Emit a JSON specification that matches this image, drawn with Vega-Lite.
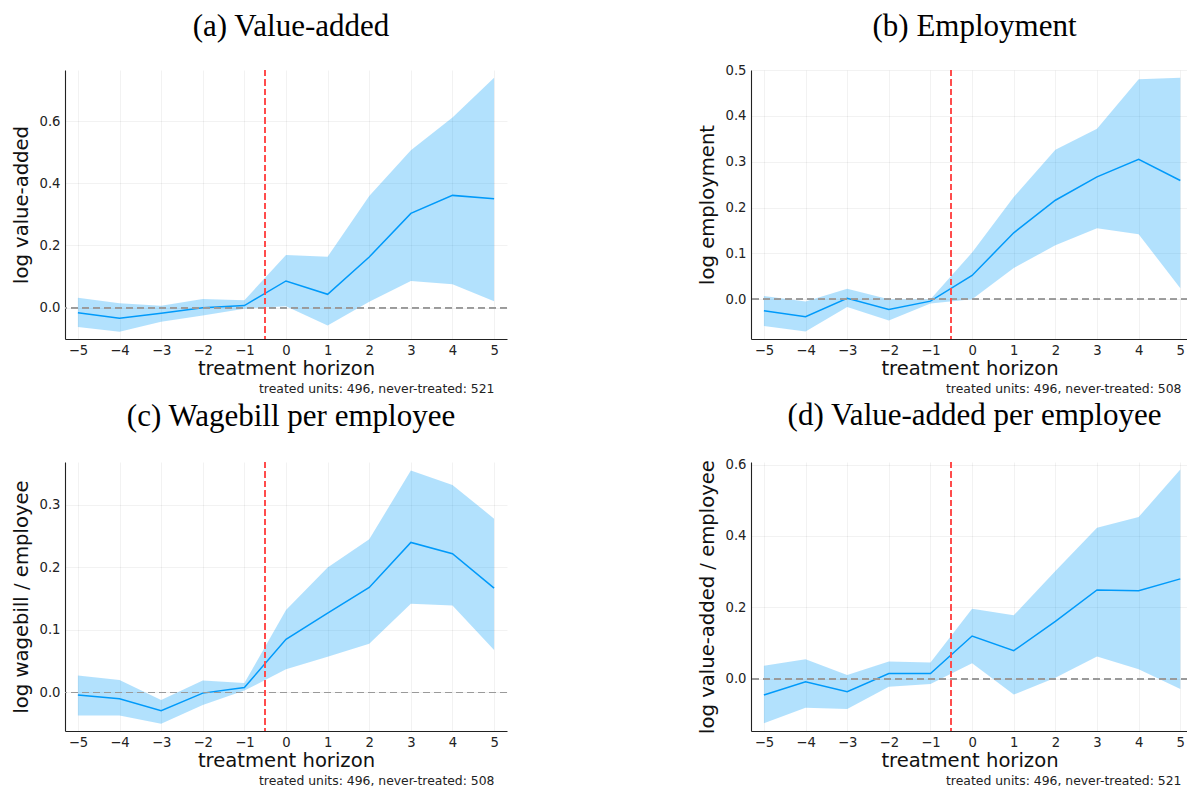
{
  "$schema": "https://vega.github.io/schema/vega-lite/v6.json",
  "background": "white",
  "padding": {"left": 10, "top": 10, "right": 0, "bottom": 0},
  "config": {
    "view": {"stroke": null},
    "title": {"font": "Liberation Serif", "fontSize": 31, "fontWeight": "normal", "color": "#000", "anchor": "middle", "frame": "group", "baseline": "alphabetic", "dx": 5},
    "axis": {
      "labelFont": "DejaVu Sans", "titleFont": "DejaVu Sans", "labelFontSize": 13.2, "titleFontSize": 19.6,
      "titleFontWeight": "normal", "labelColor": "#222", "titleColor": "#111",
      "domainColor": "#222", "domainWidth": 1.1, "gridColor": "#000", "gridOpacity": 0.08, "gridWidth": 0.7,
      "ticks": false
    },
    "axisX": {"labelPadding": 5, "titleY": 29, "titleBaseline": "middle", "values": [-5, -4, -3, -2, -1, 0, 1, 2, 3, 4, 5], "format": "d"},
    "axisY": {"labelPadding": 5, "titleX": -44, "titleBaseline": "middle", "format": ".1f"}
  },
  "datasets": {
    "es": [
      {"panel": "a", "h": -5, "est": -0.016, "lo": -0.062, "hi": 0.032},
      {"panel": "a", "h": -4, "est": -0.034, "lo": -0.077, "hi": 0.014},
      {"panel": "a", "h": -3, "est": -0.018, "lo": -0.045, "hi": 0.006},
      {"panel": "a", "h": -2, "est": 0.000, "lo": -0.025, "hi": 0.028},
      {"panel": "a", "h": -1, "est": 0.007, "lo": -0.003, "hi": 0.024},
      {"panel": "a", "h": 0, "est": 0.086, "lo": 0.005, "hi": 0.169},
      {"panel": "a", "h": 1, "est": 0.043, "lo": -0.057, "hi": 0.164},
      {"panel": "a", "h": 2, "est": 0.163, "lo": 0.019, "hi": 0.359},
      {"panel": "a", "h": 3, "est": 0.303, "lo": 0.086, "hi": 0.506},
      {"panel": "a", "h": 4, "est": 0.361, "lo": 0.075, "hi": 0.611},
      {"panel": "a", "h": 5, "est": 0.350, "lo": 0.021, "hi": 0.739},
      {"panel": "b", "h": -5, "est": -0.025, "lo": -0.058, "hi": 0.007},
      {"panel": "b", "h": -4, "est": -0.038, "lo": -0.070, "hi": -0.005},
      {"panel": "b", "h": -3, "est": 0.002, "lo": -0.017, "hi": 0.023},
      {"panel": "b", "h": -2, "est": -0.022, "lo": -0.046, "hi": 0.000},
      {"panel": "b", "h": -1, "est": -0.004, "lo": -0.009, "hi": 0.000},
      {"panel": "b", "h": 0, "est": 0.052, "lo": 0.000, "hi": 0.102},
      {"panel": "b", "h": 1, "est": 0.145, "lo": 0.068, "hi": 0.223},
      {"panel": "b", "h": 2, "est": 0.216, "lo": 0.118, "hi": 0.326},
      {"panel": "b", "h": 3, "est": 0.267, "lo": 0.155, "hi": 0.372},
      {"panel": "b", "h": 4, "est": 0.305, "lo": 0.142, "hi": 0.480},
      {"panel": "b", "h": 5, "est": 0.259, "lo": 0.024, "hi": 0.483},
      {"panel": "c", "h": -5, "est": -0.004, "lo": -0.037, "hi": 0.027},
      {"panel": "c", "h": -4, "est": -0.010, "lo": -0.037, "hi": 0.020},
      {"panel": "c", "h": -3, "est": -0.029, "lo": -0.050, "hi": -0.012},
      {"panel": "c", "h": -2, "est": -0.001, "lo": -0.020, "hi": 0.019},
      {"panel": "c", "h": -1, "est": 0.008, "lo": 0.003, "hi": 0.015},
      {"panel": "c", "h": 0, "est": 0.085, "lo": 0.037, "hi": 0.132},
      {"panel": "c", "h": 1, "est": 0.127, "lo": 0.057, "hi": 0.200},
      {"panel": "c", "h": 2, "est": 0.168, "lo": 0.078, "hi": 0.245},
      {"panel": "c", "h": 3, "est": 0.240, "lo": 0.142, "hi": 0.355},
      {"panel": "c", "h": 4, "est": 0.222, "lo": 0.139, "hi": 0.332},
      {"panel": "c", "h": 5, "est": 0.167, "lo": 0.068, "hi": 0.278},
      {"panel": "d", "h": -5, "est": -0.045, "lo": -0.124, "hi": 0.037},
      {"panel": "d", "h": -4, "est": -0.008, "lo": -0.081, "hi": 0.055},
      {"panel": "d", "h": -3, "est": -0.036, "lo": -0.084, "hi": 0.011},
      {"panel": "d", "h": -2, "est": 0.015, "lo": -0.022, "hi": 0.049},
      {"panel": "d", "h": -1, "est": 0.015, "lo": -0.014, "hi": 0.046},
      {"panel": "d", "h": 0, "est": 0.120, "lo": 0.044, "hi": 0.196},
      {"panel": "d", "h": 1, "est": 0.079, "lo": -0.044, "hi": 0.178},
      {"panel": "d", "h": 2, "est": 0.161, "lo": 0.003, "hi": 0.302},
      {"panel": "d", "h": 3, "est": 0.249, "lo": 0.063, "hi": 0.423},
      {"panel": "d", "h": 4, "est": 0.247, "lo": 0.027, "hi": 0.453},
      {"panel": "d", "h": 5, "est": 0.280, "lo": -0.028, "hi": 0.586}
    ]
  },
  "columns": 2,
  "bounds": "flush",
  "spacing": {"column": 244, "row": 123},
  "concat": [
    {
      "title": {"text": "(a) Value-added", "offset": 26.5},
      "width": 442, "height": 269,
      "data": {"name": "es"},
      "transform": [{"filter": "datum.panel === 'a'"}],
      "resolve": {"axis": {"x": "independent"}},
      "layer": [
        {
          "mark": {"type": "area", "color": "#009AFA", "opacity": 0.3},
          "encoding": {
            "x": {"field": "h", "type": "quantitative", "scale": {"domain": [-5.31, 5.31], "nice": false, "zero": false}, "axis": {"title": "treatment horizon"}},
            "y": {"field": "lo", "type": "quantitative", "scale": {"domain": [-0.1006, 0.764], "nice": false, "zero": false}, "axis": {"values": [0, 0.2, 0.4, 0.6], "title": "log value-added"}},
            "y2": {"field": "hi"}
          }
        },
        {
          "mark": {"type": "line", "color": "#009AFA", "strokeWidth": 1.5},
          "encoding": {
            "x": {"field": "h", "type": "quantitative", "axis": null},
            "y": {"field": "est", "type": "quantitative", "title": "log value-added"}
          }
        },
        {
          "mark": {"type": "rule", "color": "#9a9a9a", "strokeDash": [7, 4], "strokeWidth": 1.2},
          "encoding": {"y": {"datum": 0}}
        },
        {
          "mark": {"type": "rule", "color": "#ff4d4d", "strokeDash": [6, 3.5], "strokeWidth": 1.3},
          "encoding": {"x": {"datum": -0.5, "axis": {"orient": "bottom", "labels": false, "domain": false, "grid": false, "title": "treated units: 496, never-treated: 521", "titleFontSize": 12.4, "titleX": 429, "titleY": 49, "titleAlign": "right", "titleBaseline": "middle", "titleColor": "#222"}}}
        }
      ]
    },
    {
      "title": {"text": "(b) Employment", "offset": 20},
      "width": 437, "height": 269,
      "data": {"name": "es"},
      "transform": [{"filter": "datum.panel === 'b'"}],
      "resolve": {"axis": {"x": "independent"}},
      "layer": [
        {
          "mark": {"type": "area", "color": "#009AFA", "opacity": 0.3},
          "encoding": {
            "x": {"field": "h", "type": "quantitative", "scale": {"domain": [-5.31, 5.185], "nice": false, "zero": false}, "axis": {"title": "treatment horizon"}},
            "y": {"field": "lo", "type": "quantitative", "scale": {"domain": [-0.0866, 0.5], "nice": false, "zero": false}, "axis": {"values": [0, 0.1, 0.2, 0.3, 0.4, 0.5], "title": "log employment"}},
            "y2": {"field": "hi"}
          }
        },
        {
          "mark": {"type": "line", "color": "#009AFA", "strokeWidth": 1.5},
          "encoding": {
            "x": {"field": "h", "type": "quantitative", "axis": null},
            "y": {"field": "est", "type": "quantitative", "title": "log employment"}
          }
        },
        {
          "mark": {"type": "rule", "color": "#9a9a9a", "strokeDash": [7, 4], "strokeWidth": 1.2},
          "encoding": {"y": {"datum": 0}}
        },
        {
          "mark": {"type": "rule", "color": "#ff4d4d", "strokeDash": [6, 3.5], "strokeWidth": 1.3},
          "encoding": {"x": {"datum": -0.5, "axis": {"orient": "bottom", "labels": false, "domain": false, "grid": false, "title": "treated units: 496, never-treated: 508", "titleFontSize": 12.4, "titleX": 430, "titleY": 49, "titleAlign": "right", "titleBaseline": "middle", "titleColor": "#222"}}}
        }
      ]
    },
    {
      "title": {"text": "(c) Wagebill per employee", "offset": 28.8},
      "width": 442, "height": 269,
      "data": {"name": "es"},
      "transform": [{"filter": "datum.panel === 'c'"}],
      "resolve": {"axis": {"x": "independent"}},
      "layer": [
        {
          "mark": {"type": "area", "color": "#009AFA", "opacity": 0.3},
          "encoding": {
            "x": {"field": "h", "type": "quantitative", "scale": {"domain": [-5.31, 5.31], "nice": false, "zero": false}, "axis": {"title": "treatment horizon"}},
            "y": {"field": "lo", "type": "quantitative", "scale": {"domain": [-0.0616, 0.3686], "nice": false, "zero": false}, "axis": {"values": [0, 0.1, 0.2, 0.3], "title": "log wagebill / employee"}},
            "y2": {"field": "hi"}
          }
        },
        {
          "mark": {"type": "line", "color": "#009AFA", "strokeWidth": 1.5},
          "encoding": {
            "x": {"field": "h", "type": "quantitative", "axis": null},
            "y": {"field": "est", "type": "quantitative", "title": "log wagebill / employee"}
          }
        },
        {
          "mark": {"type": "rule", "color": "#9a9a9a", "strokeDash": [7, 4], "strokeWidth": 1.2},
          "encoding": {"y": {"datum": 0}}
        },
        {
          "mark": {"type": "rule", "color": "#ff4d4d", "strokeDash": [6, 3.5], "strokeWidth": 1.3},
          "encoding": {"x": {"datum": -0.5, "axis": {"orient": "bottom", "labels": false, "domain": false, "grid": false, "title": "treated units: 496, never-treated: 508", "titleFontSize": 12.4, "titleX": 429, "titleY": 49, "titleAlign": "right", "titleBaseline": "middle", "titleColor": "#222"}}}
        }
      ]
    },
    {
      "title": {"text": "(d) Value-added per employee", "offset": 26},
      "width": 437, "height": 269,
      "data": {"name": "es"},
      "transform": [{"filter": "datum.panel === 'd'"}],
      "resolve": {"axis": {"x": "independent"}},
      "layer": [
        {
          "mark": {"type": "area", "color": "#009AFA", "opacity": 0.3},
          "encoding": {
            "x": {"field": "h", "type": "quantitative", "scale": {"domain": [-5.31, 5.185], "nice": false, "zero": false}, "axis": {"title": "treatment horizon"}},
            "y": {"field": "lo", "type": "quantitative", "scale": {"domain": [-0.1458, 0.607], "nice": false, "zero": false}, "axis": {"values": [0, 0.2, 0.4, 0.6], "title": "log value-added / employee"}},
            "y2": {"field": "hi"}
          }
        },
        {
          "mark": {"type": "line", "color": "#009AFA", "strokeWidth": 1.5},
          "encoding": {
            "x": {"field": "h", "type": "quantitative", "axis": null},
            "y": {"field": "est", "type": "quantitative", "title": "log value-added / employee"}
          }
        },
        {
          "mark": {"type": "rule", "color": "#9a9a9a", "strokeDash": [7, 4], "strokeWidth": 1.2},
          "encoding": {"y": {"datum": 0}}
        },
        {
          "mark": {"type": "rule", "color": "#ff4d4d", "strokeDash": [6, 3.5], "strokeWidth": 1.3},
          "encoding": {"x": {"datum": -0.5, "axis": {"orient": "bottom", "labels": false, "domain": false, "grid": false, "title": "treated units: 496, never-treated: 521", "titleFontSize": 12.4, "titleX": 430, "titleY": 49, "titleAlign": "right", "titleBaseline": "middle", "titleColor": "#222"}}}
        }
      ]
    }
  ]
}
